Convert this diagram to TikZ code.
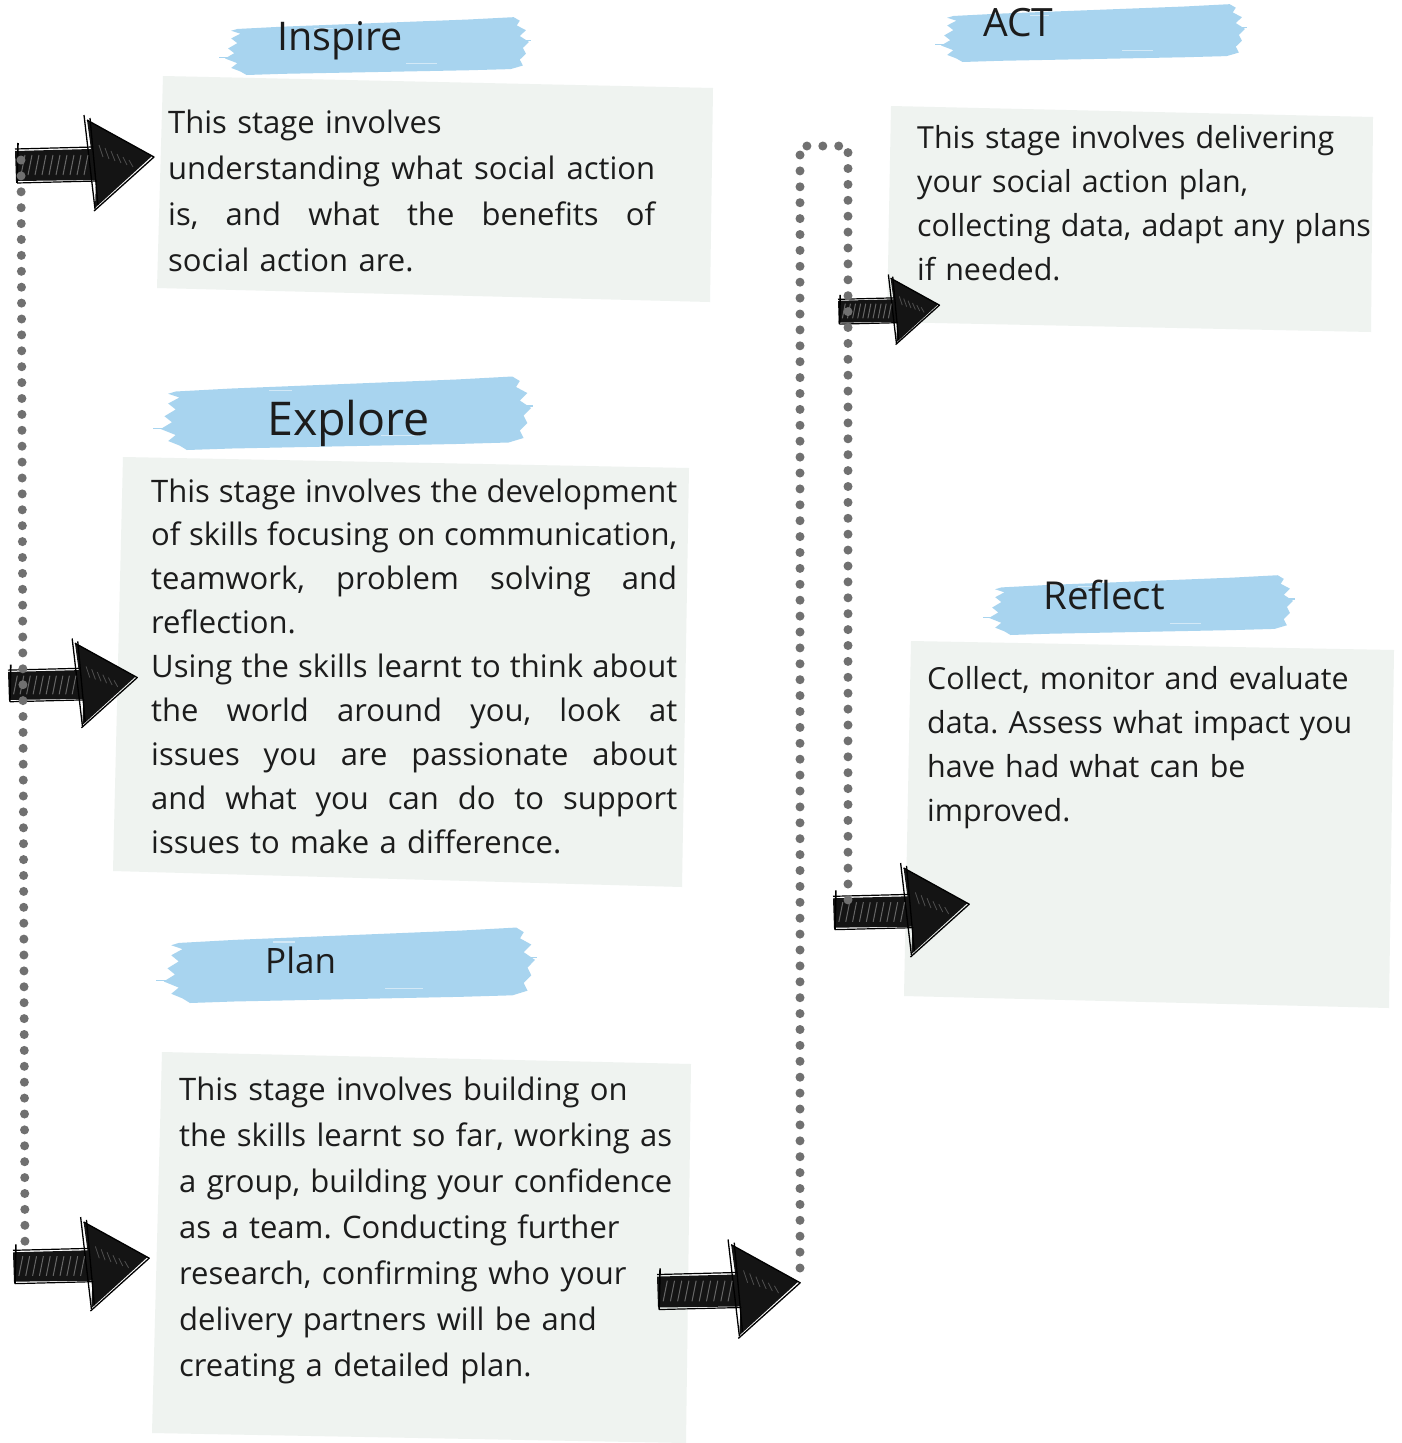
\documentclass[tikz,border=0pt]{standalone}
\usepackage{fontspec}
\setmainfont{Open Sans}
\frenchspacing
\definecolor{boxfill}{RGB}{239,243,240}
\definecolor{brushblue}{RGB}{168,212,239}
\definecolor{dotgray}{RGB}{112,112,112}
\definecolor{ink}{RGB}{28,28,28}
\newcommand\jl[2]{\leavevmode\hbox to #1{#2}}
\newcommand\gp{\hskip 0.26em plus 1fill minus 0.1em\relax}
\tikzset{
  bodytext/.style={inner sep=0pt, anchor=base west, align=left, text=ink, text width=#1},
  titletext/.style={inner sep=0pt, anchor=base west, text=ink},
  panel/.style={fill=boxfill},
  dotline/.style={draw=dotgray, line width=9pt, line cap=round, dash pattern=on 0pt off 15.9pt},
  brush/.pic={
    \fill[brushblue] (5,22) -- (20,18) -- (40,14) -- (60,10) -- (80,6) -- (95,2) -- (97,8) -- (96,16) -- (99,24) -- (97,34) -- (100,44) -- (98,54) -- (99,64) -- (97,74) -- (98,84) -- (94,90) -- (80,92) -- (60,94) -- (40,96) -- (20,98) -- (8,100) -- (6,94) -- (3,88) -- (5,80) -- (1,72) -- (4,63) -- (2,55) -- (5,46) -- (3,38) -- (6,30) -- (3,25) -- cycle;
    \fill[brushblue] (-1,70) rectangle (8,72);
    \fill[brushblue] (95,40) rectangle (100.5,42);
    \fill[white, opacity=0.5] (60,80) rectangle (70,81.5);
    \fill[white, opacity=0.5] (30,20) rectangle (36,21.5);
  },
  sketcharrow/.pic={
    \fill[black!92] (0,-14) -- (76,-16) -- (72,-45) -- (137,-9) -- (80,43) -- (81,15) -- (1,16) -- cycle;
    \draw[black, line width=1.6pt] (3,-22) -- (2,18);
    \draw[black, line width=1.3pt] (69,-50) -- (80,44);
    \draw[black, line width=1.3pt] (75,-47) -- (83,40);
    \draw[black, line width=1.3pt, line join=round] (72,-45) -- (139,-8) -- (79,46);
    \draw[black, line width=1.2pt] (0,-16) -- (78,-18);
    \draw[black, line width=1.2pt] (2,18) -- (82,16);
    \foreach \i in {0,...,9} \draw[white, opacity=0.35, line width=1pt] ({6+7*\i},10) -- ({10+7*\i},-10);
    \foreach \i in {0,...,5} \draw[white, opacity=0.25, line width=0.8pt] ({84+6*\i},{-20+3*\i}) -- ({88+6*\i},{-8+2*\i});
  }
}
\begin{document}
\begin{tikzpicture}[x=1pt, y=-1pt]
\useasboundingbox (0,0) rectangle (1401,1443);
\fill[white] (0,0) rectangle (1401,1443);

% panels
\fill[panel] (163,76) -- (713,88) -- (710,302) -- (157,288) -- cycle;
\fill[panel] (123,457) -- (689,468) -- (682,887) -- (113,871) -- cycle;
\fill[panel] (162,1052) -- (691,1064) -- (686,1443) -- (152,1433) -- cycle;
\fill[panel] (891,106) -- (1373,117) -- (1371,332) -- (887,322) -- cycle;
\fill[panel] (911,641) -- (1394,650) -- (1389,1008) -- (904,996) -- cycle;

% brush strokes
\pic[xscale=3.07, yscale=0.59] at (222,16) {brush};
\pic[xscale=3.74, yscale=0.75] at (157,375) {brush};
\pic[xscale=3.75, yscale=0.77] at (160,926) {brush};
\pic[xscale=3.07, yscale=0.59] at (938,3) {brush};
\pic[xscale=3.07, yscale=0.61] at (986,574) {brush};

% titles
\node[titletext, font=\fontsize{39.5}{44}\selectfont] (hInspire) at (277,50) {Inspire};
\node[titletext, font=\fontsize{46.5}{50}\selectfont] (hExplore) at (267,435) {Explore};
\node[titletext, font=\fontsize{35}{40}\selectfont] (hPlan) at (265,973) {Plan};
\node[titletext, font=\fontsize{39}{44}\selectfont] (hAct) at (983,36) {ACT};
\node[titletext, font=\fontsize{38.5}{44}\selectfont] (hReflect) at (1043,609) {Reflect};

% body texts
\node[bodytext=600pt, font=\fontsize{31}{46}\selectfont] (tInspire) at (168,133) {This stage involves\\
\jl{487pt}{understanding\gp what\gp social\gp action}\\
\jl{487pt}{is,\gp and\gp what\gp the\gp benefits\gp of}\\
social action are.};

\node[bodytext=600pt, font=\fontsize{31}{43.9}\selectfont] (tExplore) at (151,502) {\jl{526pt}{This\gp stage\gp involves\gp the\gp development}\\
\jl{526pt}{of\gp skills\gp focusing\gp on\gp communication,}\\
\jl{526pt}{teamwork,\gp problem\gp solving\gp and}\\
reflection.\\
\jl{526pt}{Using\gp the\gp skills\gp learnt\gp to\gp think\gp about}\\
\jl{526pt}{the\gp world\gp around\gp you,\gp look\gp at}\\
\jl{526pt}{issues\gp you\gp are\gp passionate\gp about}\\
\jl{526pt}{and\gp what\gp you\gp can\gp do\gp to\gp support}\\
issues to make a difference.};

\node[bodytext=600pt, font=\fontsize{31}{46}\selectfont] (tPlan) at (179,1100) {This stage involves building on\\
the skills learnt so far, working as\\
a group, building your confidence\\
as a team. Conducting further\\
research, confirming who your\\
delivery partners will be and\\
creating a detailed plan.};

\node[bodytext=600pt, font=\fontsize{30.4}{44}\selectfont] (tAct) at (917,148) {This stage involves delivering\\
your social action plan,\\
collecting data, adapt any plans\\
if needed.};

\node[bodytext=600pt, font=\fontsize{30.4}{44}\selectfont] (tReflect) at (927,689) {Collect, monitor and evaluate\\
data. Assess what impact you\\
have had what can be\\
improved.};

% arrows
\pic at (15,165) {sketcharrow};
\pic[scale=0.93] at (8,685) {sketcharrow};
\pic[scale=0.98] at (13,1266) {sketcharrow};
\pic[scale=1.03] at (657,1291) {sketcharrow};
\pic[scale=0.73] at (838,311) {sketcharrow};
\pic[scale=0.98] at (833,912) {sketcharrow};

% dotted connectors
\coordinate (lt) at (21,160);
\coordinate (lb) at (25,1250);
\coordinate (mb) at (800,1268);
\coordinate (mt1) at (800,146);
\coordinate (mt2) at (848,146);
\coordinate (mr) at (848,915);
\draw[dotline] (lt) -- (lb);
\draw[dotline] (mb) -- (mt1) -- (mt2) -- (mr);
\end{tikzpicture}
\end{document}
